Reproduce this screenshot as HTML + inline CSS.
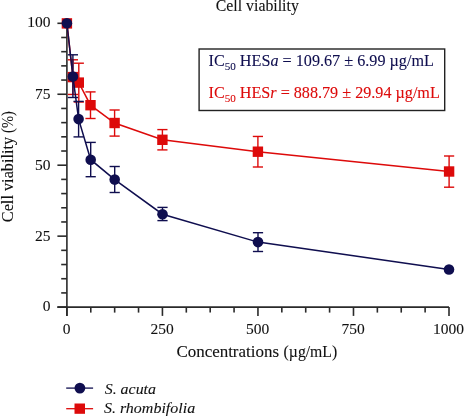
<!DOCTYPE html>
<html><head><meta charset="utf-8"><style>
html,body{margin:0;padding:0;background:#fff;width:465px;height:417px;overflow:hidden}
svg{display:block;font-family:"Liberation Serif",serif;will-change:transform}
</style></head><body>
<svg width="465" height="417" viewBox="0 0 465 417"><rect width="465" height="417" fill="#fff"/><text x="215.8" y="11.2" font-size="16" fill="#111" stroke="#111" stroke-width="0.1" textLength="83.0" lengthAdjust="spacingAndGlyphs">Cell viability</text><g stroke="#2a2a2a" stroke-width="1.6" fill="none"><line x1="66.9" y1="23.3" x2="66.9" y2="315.90000000000003"/><line x1="57.400000000000006" y1="307.1" x2="449.0" y2="307.1"/><line x1="57.40" y1="307.10" x2="66.9" y2="307.10"/><line x1="61.20" y1="292.91" x2="66.9" y2="292.91"/><line x1="61.20" y1="278.72" x2="66.9" y2="278.72"/><line x1="61.20" y1="264.53" x2="66.9" y2="264.53"/><line x1="61.20" y1="250.34" x2="66.9" y2="250.34"/><line x1="57.40" y1="236.15" x2="66.9" y2="236.15"/><line x1="61.20" y1="221.96" x2="66.9" y2="221.96"/><line x1="61.20" y1="207.77" x2="66.9" y2="207.77"/><line x1="61.20" y1="193.58" x2="66.9" y2="193.58"/><line x1="61.20" y1="179.39" x2="66.9" y2="179.39"/><line x1="57.40" y1="165.20" x2="66.9" y2="165.20"/><line x1="61.20" y1="151.01" x2="66.9" y2="151.01"/><line x1="61.20" y1="136.82" x2="66.9" y2="136.82"/><line x1="61.20" y1="122.63" x2="66.9" y2="122.63"/><line x1="61.20" y1="108.44" x2="66.9" y2="108.44"/><line x1="57.40" y1="94.25" x2="66.9" y2="94.25"/><line x1="61.20" y1="80.06" x2="66.9" y2="80.06"/><line x1="61.20" y1="65.87" x2="66.9" y2="65.87"/><line x1="61.20" y1="51.68" x2="66.9" y2="51.68"/><line x1="61.20" y1="37.49" x2="66.9" y2="37.49"/><line x1="57.40" y1="23.30" x2="66.9" y2="23.30"/><line x1="66.90" y1="307.1" x2="66.90" y2="315.90"/><line x1="90.78" y1="307.1" x2="90.78" y2="312.60"/><line x1="114.66" y1="307.1" x2="114.66" y2="312.60"/><line x1="138.54" y1="307.1" x2="138.54" y2="312.60"/><line x1="162.43" y1="307.1" x2="162.43" y2="315.90"/><line x1="186.31" y1="307.1" x2="186.31" y2="312.60"/><line x1="210.19" y1="307.1" x2="210.19" y2="312.60"/><line x1="234.07" y1="307.1" x2="234.07" y2="312.60"/><line x1="257.95" y1="307.1" x2="257.95" y2="315.90"/><line x1="281.83" y1="307.1" x2="281.83" y2="312.60"/><line x1="305.71" y1="307.1" x2="305.71" y2="312.60"/><line x1="329.59" y1="307.1" x2="329.59" y2="312.60"/><line x1="353.48" y1="307.1" x2="353.48" y2="315.90"/><line x1="377.36" y1="307.1" x2="377.36" y2="312.60"/><line x1="401.24" y1="307.1" x2="401.24" y2="312.60"/><line x1="425.12" y1="307.1" x2="425.12" y2="312.60"/><line x1="449.00" y1="307.1" x2="449.00" y2="315.90"/></g><text x="50.6" y="310.65" font-size="15.5" fill="#111" stroke="#111" stroke-width="0.1" text-anchor="end">0</text><text x="50.6" y="240.85" font-size="15.5" fill="#111" stroke="#111" stroke-width="0.1" text-anchor="end">25</text><text x="50.6" y="170.05" font-size="15.5" fill="#111" stroke="#111" stroke-width="0.1" text-anchor="end">50</text><text x="50.6" y="99.15" font-size="15.5" fill="#111" stroke="#111" stroke-width="0.1" text-anchor="end">75</text><text x="50.6" y="26.85" font-size="15.5" fill="#111" stroke="#111" stroke-width="0.1" text-anchor="end">100</text><text x="66.50" y="333.5" font-size="15.5" fill="#111" stroke="#111" stroke-width="0.1" text-anchor="middle">0</text><text x="162.03" y="333.5" font-size="15.5" fill="#111" stroke="#111" stroke-width="0.1" text-anchor="middle">250</text><text x="257.55" y="333.5" font-size="15.5" fill="#111" stroke="#111" stroke-width="0.1" text-anchor="middle">500</text><text x="353.08" y="333.5" font-size="15.5" fill="#111" stroke="#111" stroke-width="0.1" text-anchor="middle">750</text><text x="448.60" y="333.5" font-size="15.5" fill="#111" stroke="#111" stroke-width="0.1" text-anchor="middle">1000</text><text x="176.4" y="356.9" font-size="16" fill="#111" stroke="#111" stroke-width="0.1" textLength="102.6" lengthAdjust="spacingAndGlyphs">Concentrations</text><text x="283.6" y="356.9" font-size="16" fill="#111" stroke="#111" stroke-width="0.1" textLength="53.6" lengthAdjust="spacingAndGlyphs">(µg/mL)</text><text x="0" y="0" font-size="16" fill="#111" stroke="#111" stroke-width="0.1" textLength="85.4" lengthAdjust="spacingAndGlyphs" transform="translate(13.3,222.2) rotate(-90)">Cell viability</text><text x="0" y="0" font-size="16" fill="#111" stroke="#111" stroke-width="0.1" textLength="21.6" lengthAdjust="spacingAndGlyphs" transform="translate(13.3,132.9) rotate(-90)">(%)</text><polyline points="66.90,23.40 72.90,77.10 78.80,82.60 90.50,105.20 114.60,123.00 162.40,139.80 257.90,151.70 449.10,171.50" fill="none" stroke="#dd0a0a" stroke-width="1.5"/><g stroke="#dd0a0a" stroke-width="1.4"><line x1="72.90" y1="59.80" x2="72.90" y2="94.45"/><line x1="67.80" y1="59.80" x2="78.00" y2="59.80"/><line x1="67.80" y1="94.45" x2="78.00" y2="94.45"/><line x1="78.80" y1="63.20" x2="78.80" y2="102.00"/><line x1="73.70" y1="63.20" x2="83.90" y2="63.20"/><line x1="73.70" y1="102.00" x2="83.90" y2="102.00"/><line x1="90.50" y1="91.90" x2="90.50" y2="118.50"/><line x1="85.40" y1="91.90" x2="95.60" y2="91.90"/><line x1="85.40" y1="118.50" x2="95.60" y2="118.50"/><line x1="114.60" y1="110.00" x2="114.60" y2="136.10"/><line x1="109.50" y1="110.00" x2="119.70" y2="110.00"/><line x1="109.50" y1="136.10" x2="119.70" y2="136.10"/><line x1="162.40" y1="129.60" x2="162.40" y2="149.90"/><line x1="157.30" y1="129.60" x2="167.50" y2="129.60"/><line x1="157.30" y1="149.90" x2="167.50" y2="149.90"/><line x1="257.90" y1="136.45" x2="257.90" y2="167.00"/><line x1="252.80" y1="136.45" x2="263.00" y2="136.45"/><line x1="252.80" y1="167.00" x2="263.00" y2="167.00"/><line x1="449.10" y1="156.00" x2="449.10" y2="187.20"/><line x1="444.00" y1="156.00" x2="454.20" y2="156.00"/><line x1="444.00" y1="187.20" x2="454.20" y2="187.20"/></g><rect x="61.70" y="18.20" width="10.4" height="10.4" fill="#dd0a0a"/><rect x="67.70" y="71.90" width="10.4" height="10.4" fill="#dd0a0a"/><rect x="73.60" y="77.40" width="10.4" height="10.4" fill="#dd0a0a"/><rect x="85.30" y="100.00" width="10.4" height="10.4" fill="#dd0a0a"/><rect x="109.40" y="117.80" width="10.4" height="10.4" fill="#dd0a0a"/><rect x="157.20" y="134.60" width="10.4" height="10.4" fill="#dd0a0a"/><rect x="252.70" y="146.50" width="10.4" height="10.4" fill="#dd0a0a"/><rect x="443.90" y="166.30" width="10.4" height="10.4" fill="#dd0a0a"/><polyline points="66.90,23.30 72.90,76.60 78.60,119.10 90.70,159.70 114.70,179.60 162.50,214.20 258.00,242.10 449.00,269.50" fill="none" stroke="#0f0e4f" stroke-width="1.5"/><g stroke="#0f0e4f" stroke-width="1.4"><line x1="72.90" y1="54.80" x2="72.90" y2="97.50"/><line x1="67.80" y1="54.80" x2="78.00" y2="54.80"/><line x1="67.80" y1="97.50" x2="78.00" y2="97.50"/><line x1="78.60" y1="101.40" x2="78.60" y2="136.90"/><line x1="73.50" y1="101.40" x2="83.70" y2="101.40"/><line x1="73.50" y1="136.90" x2="83.70" y2="136.90"/><line x1="90.70" y1="142.40" x2="90.70" y2="176.70"/><line x1="85.60" y1="142.40" x2="95.80" y2="142.40"/><line x1="85.60" y1="176.70" x2="95.80" y2="176.70"/><line x1="114.70" y1="166.50" x2="114.70" y2="192.50"/><line x1="109.60" y1="166.50" x2="119.80" y2="166.50"/><line x1="109.60" y1="192.50" x2="119.80" y2="192.50"/><line x1="162.50" y1="207.40" x2="162.50" y2="220.60"/><line x1="157.40" y1="207.40" x2="167.60" y2="207.40"/><line x1="157.40" y1="220.60" x2="167.60" y2="220.60"/><line x1="258.00" y1="232.70" x2="258.00" y2="251.50"/><line x1="252.90" y1="232.70" x2="263.10" y2="232.70"/><line x1="252.90" y1="251.50" x2="263.10" y2="251.50"/></g><circle cx="66.90" cy="23.30" r="5.3" fill="#0f0e4f"/><circle cx="72.90" cy="76.60" r="5.3" fill="#0f0e4f"/><circle cx="78.60" cy="119.10" r="5.3" fill="#0f0e4f"/><circle cx="90.70" cy="159.70" r="5.3" fill="#0f0e4f"/><circle cx="114.70" cy="179.60" r="5.3" fill="#0f0e4f"/><circle cx="162.50" cy="214.20" r="5.3" fill="#0f0e4f"/><circle cx="258.00" cy="242.10" r="5.3" fill="#0f0e4f"/><circle cx="449.00" cy="269.50" r="5.3" fill="#0f0e4f"/><rect x="199.1" y="49.0" width="245.6" height="61.5" fill="none" stroke="#222" stroke-width="1.4"/><text x="208.5" y="66.1" font-size="16" fill="#0f0e4f" stroke="#0f0e4f" stroke-width="0.1" textLength="225.4" lengthAdjust="spacingAndGlyphs">IC<tspan font-size="11" dy="3.4">50</tspan><tspan dy="-3.4"> HES</tspan><tspan font-style="italic">a</tspan> = 109.67 ± 6.99 µg/mL</text><text x="208.5" y="98.4" font-size="16" fill="#dd0a0a" stroke="#dd0a0a" stroke-width="0.1" textLength="231.3" lengthAdjust="spacingAndGlyphs">IC<tspan font-size="11" dy="3.4">50</tspan><tspan dy="-3.4"> HES</tspan><tspan font-style="italic">r</tspan> = 888.79 ± 29.94 µg/mL</text><line x1="66.2" y1="388.1" x2="93.1" y2="388.1" stroke="#0f0e4f" stroke-width="1.3"/><circle cx="79.9" cy="388.1" r="5.4" fill="#0f0e4f"/><line x1="66.2" y1="408.7" x2="93.1" y2="408.7" stroke="#dd0a0a" stroke-width="1.3"/><rect x="74.5" y="403.5" width="10.5" height="10.3" fill="#dd0a0a"/><text x="104.7" y="394.0" font-size="15.5" fill="#111" stroke="#111" stroke-width="0.1" textLength="51.3" lengthAdjust="spacingAndGlyphs" font-style="italic">S. acuta</text><text x="103.9" y="413.0" font-size="15.5" fill="#111" stroke="#111" stroke-width="0.1" textLength="91.3" lengthAdjust="spacingAndGlyphs" font-style="italic">S. rhombifolia</text></svg>
</body></html>
